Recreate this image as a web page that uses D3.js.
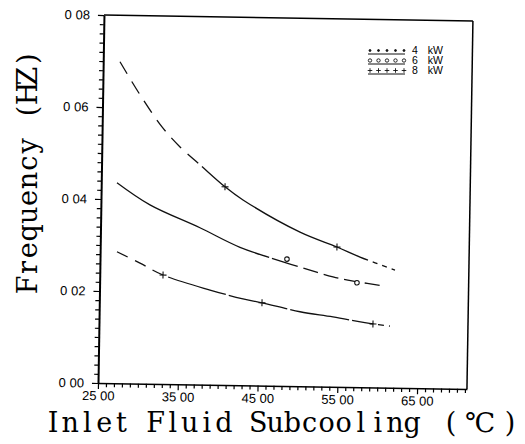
<!DOCTYPE html>
<html lang="en">
<head>
<meta charset="UTF-8"/>
<title>Frequency vs Inlet Fluid Subcooling</title>
<script src="https://d3js.org/d3.v7.min.js"></script>
<style>
  body { margin: 0; background: #fff; }
</style>
</head>
<body>
<script>
var w = 525;
var h = 444;

// values
var seriesNames = ["4 kW", "6 kW", "8 kW"];

var x4 = [27.11, 30.02, 32.93, 38.85, 43.0, 45.39, 50.17, 54.31, 59.34, 61.47];
var y4 = [0.0286, 0.0262, 0.0237, 0.0206, 0.0188, 0.0180, 0.0162, 0.0152, 0.0138, 0.0134];

var x6 = [26.97, 31.15, 37.46, 42.52, 47.94, 50.08, 54.23, 57.0, 60.64];
var y6 = [0.0436, 0.0389, 0.0341, 0.0300, 0.0270, 0.0259, 0.0239, 0.0230, 0.0221];

var x8 = [27.10, 29.68, 32.50, 34.80, 37.34, 40.52, 42.80, 50.01, 54.67, 57.58, 61.99];
var y8 = [0.0699, 0.0628, 0.0559, 0.0516, 0.0478, 0.0431, 0.0403, 0.0335, 0.0304, 0.0283, 0.0256];

// measured points drawn as symbols
var m4x = [32.93, 45.39, 59.34];
var m4y = [0.0237, 0.0180, 0.0138];
var m6x = [48.43, 57.25];
var m6y = [0.0276, 0.0227];
var m8x = [40.52, 54.67];
var m8y = [0.0431, 0.0304];

var xTicks = [25, 35, 45, 55, 65];
var xTickLabels = ["25 00", "35 00", "45 00", "55 00", "65 00"];
var yTicks = [0, 0.02, 0.04, 0.06, 0.08];
var yTickLabels = ["0 00", "0 02", "0 04", "0 06", "0 08"];

var xTitle = "Inlet Fluid Subcooling (\u2103)";
var yTitle = "Frequency (HZ)";

var padLeft = 98, padRight = 467, padTop = 15, padBottom = 383;

var xScale = d3.scaleLinear()
                .domain([25, 71.25])
                .range([padLeft, padRight]);

var yScale = d3.scaleLinear()
                .domain([0, 0.08])
                .range([padBottom, padTop]);

var svg = d3.select("body")
            .append("svg")
            .attr("width", w)
            .attr("height", h);

svg.append("rect").attr("width", w).attr("height", h).attr("fill", "#fff");

// the scan is turned a little clockwise
var g = svg.append("g")
           .attr("transform", "rotate(0.93," + padLeft + "," + padBottom + ")");

/* minor ticks */
var xMinor = d3.range(25, 72, 1).filter(function(d){ return xTicks.indexOf(d) < 0; });
var yMinor = d3.range(0, 0.0801, 0.002).filter(function(d){
    return yTicks.every(function(t){ return Math.abs(t - d) > 1e-6; });
});

g.append("g")
    .attr("transform", "translate(0," + padBottom + ")")
    .call(d3.axisBottom(xScale).tickValues(xMinor).tickSize(4).tickFormat(""))
    .call(function(a){ a.select(".domain").remove(); });

g.append("g")
    .attr("transform", "translate(" + padLeft + ",0)")
    .call(d3.axisLeft(yScale).tickValues(yMinor).tickSize(4).tickFormat(""))
    .call(function(a){ a.select(".domain").remove(); });

/* main axes */
var xAxis = g.append("g")
    .attr("transform", "translate(0," + padBottom + ")")
    .call(d3.axisBottom(xScale)
            .tickValues(xTicks)
            .tickSize(6)
            .tickSizeOuter(0)
            .tickPadding(2)
            .tickFormat(function(d, i){ return xTickLabels[i]; }));

var yAxis = g.append("g")
    .attr("transform", "translate(" + padLeft + ",0)")
    .call(d3.axisLeft(yScale)
            .tickValues(yTicks)
            .tickSize(6)
            .tickSizeOuter(0)
            .tickPadding(8)
            .tickFormat(function(d, i){ return yTickLabels[i]; }));

g.selectAll(".tick line").attr("stroke", "#000").attr("stroke-width", 1.2);
xAxis.select(".domain").attr("stroke", "#000").attr("stroke-width", 1.6);
yAxis.select(".domain").attr("stroke", "#000").attr("stroke-width", 2);
g.selectAll(".tick text")
    .attr("font-family", "'Liberation Sans', Arial, sans-serif")
    .attr("font-size", "13px")
    .attr("fill", "#000");

// top and right frame
g.append("line")
    .attr("x1", padLeft).attr("y1", padTop).attr("x2", padRight).attr("y2", padTop)
    .attr("stroke", "#000").attr("stroke-width", 1.5);
g.append("line")
    .attr("x1", padRight).attr("y1", padTop).attr("x2", padRight).attr("y2", padBottom)
    .attr("stroke", "#000").attr("stroke-width", 1.5);

/* curves */
var line = d3.line()
             .x(function(d){ return xScale(d[0]); })
             .y(function(d){ return yScale(d[1]); })
             .curve(d3.curveCatmullRom);

// broken-line look of the scan: [from x, to x, dash pattern or null for solid]
var lineLook = {
    "4 kW": [[25, 33.6, [12, 8]], [33.6, 58.6, [60, 3]], [58.6, 70, [6, 5]]],
    "6 kW": [[25, 42.6, null], [42.6, 48.0, [30, 3]], [48.0, 70, [15, 6]]],
    "8 kW": [[25, 37.6, [14, 9]], [37.6, 58.0, null], [58.0, 70, [5, 5]]]
};

function lengthAtX(node, px) {
    var lo = 0, hi = node.getTotalLength();
    for (var k = 0; k < 30; k++) {
        var mid = (lo + hi) / 2;
        if (node.getPointAtLength(mid).x < px) lo = mid; else hi = mid;
    }
    return (lo + hi) / 2;
}

function buildDash(node, look) {
    var total = node.getTotalLength();
    var arr = [];
    function push(len, on) {
        if (len <= 0) return;
        if (arr.length === 0 && !on) { arr.push(0, len); return; }
        var wantOn = arr.length % 2 === 0;
        if (wantOn === on) arr.push(len);
        else arr[arr.length - 1] += len;
    }
    look.forEach(function(s){
        var l0 = Math.min(total, lengthAtX(node, xScale(s[0])));
        var l1 = s[1] >= 70 ? total : Math.min(total, lengthAtX(node, xScale(s[1])));
        if (!s[2]) { push(l1 - l0, true); return; }
        var pos = l0;
        while (pos < l1) {
            var d = Math.min(s[2][0], l1 - pos);
            push(d, true); pos += d;
            if (pos >= l1) break;
            var gp = Math.min(s[2][1], l1 - pos);
            push(gp, false); pos += gp;
        }
    });
    if (arr.length % 2 === 1) arr.push(0);
    return arr.map(function(v){ return v.toFixed(2); }).join(",");
}

var curves = [
    { name: "4 kW", xs: x4, ys: y4 },
    { name: "6 kW", xs: x6, ys: y6 },
    { name: "8 kW", xs: x8, ys: y8 }
];

curves.forEach(function(c){
    var pts = c.xs.map(function(x, i){ return [x, c.ys[i]]; });
    var p = g.append("path")
             .datum(pts)
             .attr("d", line)
             .attr("fill", "none")
             .attr("stroke", "#111")
             .attr("stroke-width", 1.3);
    p.attr("stroke-dasharray", buildDash(p.node(), lineLook[c.name]));
});

/* markers */
var plus = d3.symbol().type(d3.symbolPlus).size(18);
var ring = d3.symbol().type(d3.symbolCircle).size(16);

function drawMarks(xs, ys, sym, fill) {
    g.selectAll(null)
        .data(xs.map(function(x, i){ return [x, ys[i]]; }))
        .enter()
        .append("path")
        .attr("d", sym)
        .attr("transform", function(d){
            return "translate(" + xScale(d[0]) + "," + yScale(d[1]) + ")";
        })
        .attr("fill", fill)
        .attr("stroke", "#111")
        .attr("stroke-width", 1.1);
}
drawMarks(m4x, m4y, plus, "none");
drawMarks(m6x, m6y, ring, "#fff");
drawMarks(m8x, m8y, plus, "none");

/* legend */
var legY = [53.5, 63.5, 73.5];
var legX0 = 368, legX1 = 405;
var legSym = [
    d3.symbol().type(d3.symbolCircle).size(3),
    d3.symbol().type(d3.symbolCircle).size(9),
    d3.symbol().type(d3.symbolPlus).size(8)
];
var legFill = ["#111", "#fff", "none"];

var leg = svg.append("g");
seriesNames.forEach(function(name, i){
    leg.append("line")
        .attr("x1", legX0).attr("x2", legX1)
        .attr("y1", legY[i] + 0.5).attr("y2", legY[i] + 0.5)
        .attr("stroke", "#111").attr("stroke-width", 1);
    leg.selectAll(null)
        .data(d3.range(5))
        .enter()
        .append("path")
        .attr("d", legSym[i])
        .attr("transform", function(k){
            return "translate(" + (legX0 + 2 + k * 8.5) + "," + (legY[i] - 3) + ")";
        })
        .attr("fill", legFill[i])
        .attr("stroke", "#111")
        .attr("stroke-width", 0.9);
    leg.append("text")
        .attr("x", 412)
        .attr("y", legY[i])
        .attr("font-family", "'Liberation Sans', Arial, sans-serif")
        .attr("font-size", "10.5px")
        .attr("word-spacing", "7px")
        .attr("fill", "#000")
        .text(name);
});

/* axis titles, typewriter style: one cell per character */
var cell = 17.1;
var xCenters = xTitle.split("").map(function(ch, i){
    if (i < 23) return 53 + i * cell;
    return [451, 480, 510][i - 23];
});
svg.append("text")
    .attr("x", xCenters.join(" "))
    .attr("y", 432)
    .attr("text-anchor", "middle")
    .attr("font-family", "'DejaVu Serif', serif")
    .attr("font-size", "27px")
    .attr("fill", "#000")
    .text(xTitle);

var yCenters = yTitle.split("").map(function(ch, i){
    return -(285 - i * 17.4);
});
svg.append("text")
    .attr("transform", "translate(37,0) rotate(-90)")
    .attr("x", yCenters.join(" "))
    .attr("y", 0)
    .attr("text-anchor", "middle")
    .attr("font-family", "'DejaVu Serif', serif")
    .attr("font-size", "27px")
    .attr("fill", "#000")
    .text(yTitle);
</script>
</body>
</html>
